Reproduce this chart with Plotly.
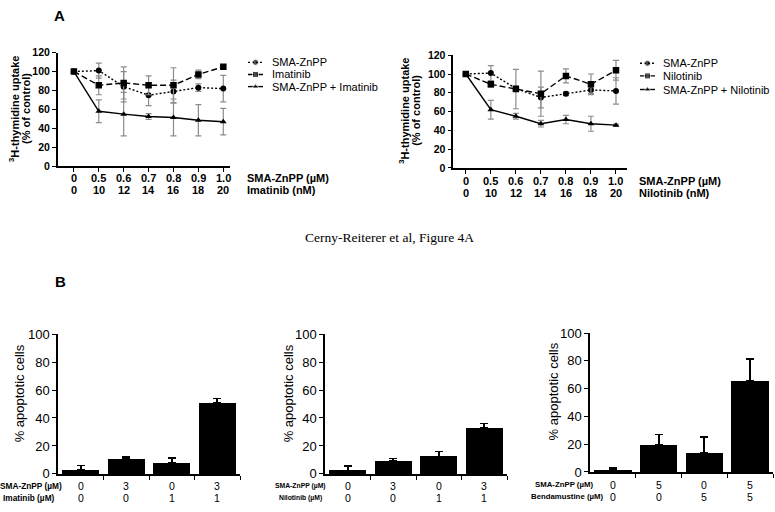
import plotly.graph_objects as go

# ---------------- data ----------------
sma_doses = ["0", "0.5", "0.6", "0.7", "0.8", "0.9", "1.0"]
tki_doses = ["0", "10", "12", "14", "16", "18", "20"]

# Panel A (left): SMA-ZnPP / Imatinib
a1_sma = [100, 101, 84, 75, 79, 83, 82]
a1_sma_err = [0, 8, 16, 11, 12, 4, 14]
a1_ima = [100, 85.5, 88, 85.5, 85.5, 97, 105]
a1_ima_err = [0, 10, 17, 10, 18.5, 4.5, 2]
a1_combo = [100, 58, 55, 52.5, 51.5, 48.5, 47]
a1_combo_err = [0, 12, 23, 3, 19.5, 16.5, 14]

# Panel A (right): SMA-ZnPP / Nilotinib
a2_sma = [100, 101, 84.5, 75, 79, 83, 82]
a2_sma_err = [0, 8, 3, 11, 2, 4, 14]
a2_nilo = [100, 89, 84, 79, 98, 89, 104]
a2_nilo_err = [0, 3, 21, 24, 7.5, 11, 10.5]
a2_combo = [100, 62, 55, 47, 51.5, 47, 45.5]
a2_combo_err = [0, 10, 3, 3.5, 4.5, 8, 1]

# Panel B
b1_sma = ["0", "3", "0", "3"]
b1_drug = ["0", "0", "1", "1"]
b1_vals = [3, 10.5, 8, 50.5]
b1_err = [3, 1.5, 3.5, 3.5]

b2_sma = ["0", "3", "0", "3"]
b2_drug = ["0", "0", "1", "1"]
b2_vals = [2.5, 9.5, 12.5, 33]
b2_err = [3, 1.5, 3.5, 3]

b3_sma = ["0", "5", "0", "5"]
b3_drug = ["0", "0", "5", "5"]
b3_vals = [1.5, 19.5, 13.5, 65.5]
b3_err = [1.5, 7.5, 11.5, 16]

# ---------------- helpers ----------------
W, H = 775, 512
def fx(p): return p / W
def fy(p): return 1 - p / H

SANS = "Arial, Liberation Sans, sans-serif"
SERIF = "Times New Roman, Liberation Serif, serif"

fig = go.Figure()
ann = []

DASH = {"sma": "2px,2px", "drug": "6px,3px", "combo": "solid"}
SYM = {"sma": "circle", "drug": "square", "combo": "triangle-up"}

def line_trace(vals, errs, kind, xa, ya):
    fig.add_trace(go.Scatter(
        x=list(range(len(vals))), y=vals, mode="lines+markers",
        line=dict(color="black", width=1.4, dash=DASH[kind]),
        marker=dict(symbol=SYM[kind], size=6 if kind != "drug" else 6.5, color="black"),
        error_y=dict(type="data", array=errs, color="#8c8c8c", thickness=1.2, width=3),
        xaxis=xa, yaxis=ya, showlegend=False, hoverinfo="skip"))

line_trace(a1_combo, a1_combo_err, "combo", "x", "y")
line_trace(a1_sma, a1_sma_err, "sma", "x", "y")
line_trace(a1_ima, a1_ima_err, "drug", "x", "y")
line_trace(a2_combo, a2_combo_err, "combo", "x2", "y2")
line_trace(a2_sma, a2_sma_err, "sma", "x2", "y2")
line_trace(a2_nilo, a2_nilo_err, "drug", "x2", "y2")

def bar_trace(vals, errs, xa, ya):
    fig.add_trace(go.Bar(
        x=list(range(len(vals))), y=vals, width=0.82,
        marker=dict(color="black", line=dict(width=0)),
        error_y=dict(type="data", symmetric=False, array=errs, arrayminus=[0] * len(errs),
                     color="black", thickness=1.8, width=4),
        xaxis=xa, yaxis=ya, showlegend=False, hoverinfo="skip"))

bar_trace(b1_vals, b1_err, "x3", "y3")
bar_trace(b2_vals, b2_err, "x4", "y4")
bar_trace(b3_vals, b3_err, "x5", "y5")

# ---------------- legends (manual, overlay pixel axis) ----------------
def legend(x0, text_x, ys, names):
    for kind, yy, nm in zip(["sma", "drug", "combo"], ys, names):
        fig.add_trace(go.Scatter(
            x=[x0, x0 + 7.5, x0 + 15], y=[yy, yy, yy], mode="lines+markers",
            line=dict(color="black", width=1.4, dash=DASH[kind]),
            marker=dict(symbol=SYM[kind], size=[0, 6, 0], color="black"),
            xaxis="x6", yaxis="y6", showlegend=False, hoverinfo="skip"))
        ann.append(dict(x=fx(text_x), y=fy(yy), xref="paper", yref="paper", text=nm,
                        showarrow=False, xanchor="left", yanchor="middle",
                        font=dict(family=SANS, size=11, color="black")))

legend(248, 270, [57, 69.5, 82], ["SMA-ZnPP", "Imatinib", "SMA-ZnPP + Imatinib"])
legend(640, 661, [58, 71, 85], ["SMA-ZnPP", "Nilotinib", "SMA-ZnPP + Nilotinib"])

# ---------------- axes ----------------
def axcommon():
    return dict(showline=True, linecolor="black", linewidth=1.5, ticks="outside",
                ticklen=4, tickwidth=1.3, tickcolor="black", showgrid=False,
                zeroline=False, fixedrange=True)

layout_axes = {}
# A1
layout_axes["xaxis"] = dict(axcommon(), domain=[fx(57.7), fx(230)], range=[-0.65, 6.27],
                            tickvals=list(range(7)), showticklabels=False, anchor="y")
layout_axes["yaxis"] = dict(axcommon(), domain=[fy(164), fy(47)], range=[0, 120],
                            tickvals=[0, 20, 40, 60, 80, 100, 120], anchor="x",
                            tickfont=dict(family=SANS, size=10.5, color="black", weight="bold"))
# A2
layout_axes["xaxis2"] = dict(axcommon(), domain=[fx(453.3), fx(627)], range=[-0.5, 6.44],
                             tickvals=list(range(7)), showticklabels=False, anchor="y2")
layout_axes["yaxis2"] = dict(axcommon(), domain=[fy(165.7), fy(49.7)], range=[0, 120],
                             tickvals=[0, 20, 40, 60, 80, 100, 120], anchor="x2",
                             tickfont=dict(family=SANS, size=10.5, color="black", weight="bold"))
# B panels
for i, (x0, x1, yb, yt) in zip([3, 4, 5], [(58, 240, 481, 337), (325, 507, 481, 337), (590, 773, 479, 336)]):
    layout_axes[f"xaxis{i}"] = dict(axcommon(), domain=[fx(x0), fx(x1)], range=[-0.5, 3.5],
                                    tickvals=[0.5, 1.5, 2.5, 3.5], showticklabels=False,
                                    anchor=f"y{i}")
    layout_axes[f"yaxis{i}"] = dict(axcommon(), domain=[fy(yb), fy(yt)], range=[0, 100],
                                    tickvals=[0, 20, 40, 60, 80, 100], anchor=f"x{i}",
                                    tickfont=dict(family=SANS, size=13, color="black"))
layout_axes["xaxis6"] = dict(domain=[0, 1], range=[0, W], visible=False, anchor="y6", fixedrange=True)
layout_axes["yaxis6"] = dict(domain=[0, 1], range=[H, 0], visible=False, anchor="x6", fixedrange=True)

# ---------------- annotations ----------------
def txt(x, y, t, size, bold=False, xanchor="center", angle=0, family=SANS):
    ann.append(dict(x=fx(x), y=fy(y), xref="paper", yref="paper", text=t, showarrow=False,
                    xanchor=xanchor, yanchor="middle", textangle=angle,
                    font=dict(family=family, size=size, color="black",
                              weight="bold" if bold else "normal")))

def data_row(xa, labels, y, size, bold):
    for i, lab in enumerate(labels):
        ann.append(dict(x=i, y=fy(y), xref=xa, yref="paper", text=lab, showarrow=False,
                        xanchor="center", yanchor="middle",
                        font=dict(family=SANS, size=size, color="black",
                                  weight="bold" if bold else "normal")))

# panel letters
txt(59, 9, "A", 15, bold=True)
txt(60, 283, "B", 15, bold=True)

# A1 axis texts
txt(14, 105, "<sup>3</sup>H-thymidine uptake", 11, bold=True, angle=-90)
txt(26, 105, "(% of control)", 11, bold=True, angle=-90)
data_row("x", sma_doses, 176, 11, True)
data_row("x", tki_doses, 188.5, 11, True)
txt(245, 176, "SMA-ZnPP (µM)", 11, bold=True, xanchor="left")
txt(245, 188.5, "Imatinib (nM)", 11, bold=True, xanchor="left")

# A2 axis texts
txt(404, 107, "<sup>3</sup>H-thymidine uptake", 11, bold=True, angle=-90)
txt(416, 107, "(% of control)", 11, bold=True, angle=-90)
data_row("x2", sma_doses, 179, 11, True)
data_row("x2", tki_doses, 191.5, 11, True)
txt(637, 179, "SMA-ZnPP (µM)", 11, bold=True, xanchor="left")
txt(637, 191.5, "Nilotinib (nM)", 11, bold=True, xanchor="left")

# caption
txt(389, 237, "Cerny-Reiterer et al, Figure 4A", 13.5, family=SERIF)

# B y titles
txt(19, 398, "% apoptotic cells", 13, angle=-90)
txt(288, 398, "% apoptotic cells", 13, angle=-90)
txt(553, 396, "% apoptotic cells", 13, angle=-90)

# B row labels
data_row("x3", b1_sma, 493, 10.5, False)
data_row("x3", b1_drug, 505.5, 10.5, False)
txt(31, 493, "SMA-ZnPP (µM)", 8.3, bold=True)
txt(29, 505.5, "Imatinib (µM)", 8.3, bold=True)

data_row("x4", b2_sma, 493, 10.5, False)
data_row("x4", b2_drug, 505.5, 10.5, False)
txt(300, 493, "SMA-ZnPP (µM)", 6.8, bold=True)
txt(300, 505.5, "Nilotinib (µM)", 6.8, bold=True)

data_row("x5", b3_sma, 492, 10.5, False)
data_row("x5", b3_drug, 504.5, 10.5, False)
txt(564, 492, "SMA-ZnPP (µM)", 7.8, bold=True)
txt(567, 504.5, "Bendamustine (µM)", 7.8, bold=True)

fig.update_layout(
    width=W, height=H, margin=dict(l=0, r=0, t=0, b=0),
    paper_bgcolor="white", plot_bgcolor="rgba(0,0,0,0)",
    showlegend=False, annotations=ann, bargap=0,
    font=dict(family=SANS, color="black"),
    **layout_axes,
)

fig.write_html("out.html", config={"displayModeBar": False},
               post_script="document.body.style.margin='0';document.body.style.padding='0';")
